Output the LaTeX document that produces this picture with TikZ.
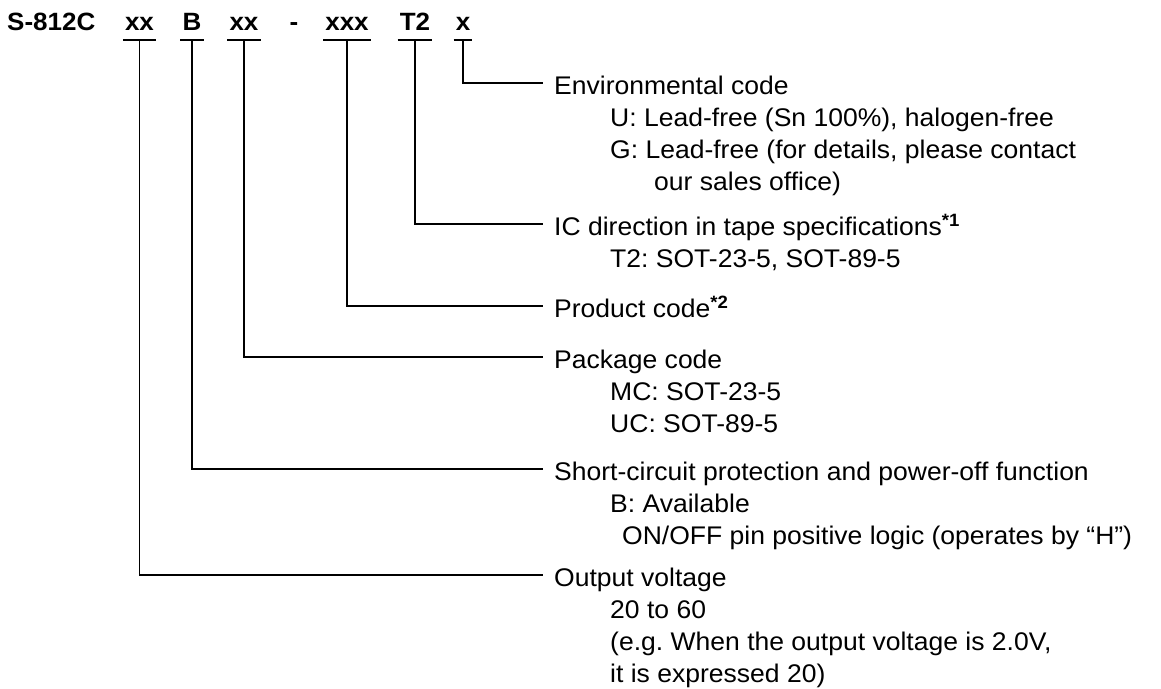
\documentclass[tikz,border=0pt]{standalone}
\usepackage{fontspec}
\setmainfont{Liberation Sans}[FakeStretch=1.04]
\frenchspacing
\newcommand{\firstln}{\rule{0pt}{24pt}}
\begin{document}
\begin{tikzpicture}[x=1pt,y=-1pt,
    code/.style={font=\fontsize{25}{30}\selectfont\bfseries, anchor=base,
        inner xsep=2pt, inner ysep=10pt, text depth=0pt},
    desc/.style={font=\fontsize{25.5}{32}\selectfont, anchor=north west,
        align=left, inner sep=0pt},
    lead/.style={line width=1.6pt}]
    \useasboundingbox (0,0) rectangle (1161,688);

    % part number
    \node [code, anchor=base west, inner xsep=0pt] (part) at (7,30) {S-812C};
    \node [code] (vout) at (139.5,30) {xx};
    \node [code] (func) at (192,30) {B};
    \node [code] (pkg) at (244,30) {xx};
    \node [code, inner ysep=0pt] (sep) at (294,30) {-};
    \node [code] (prod) at (347,30) {xxx};
    \node [code] (tape) at (415,30) {T2};
    \node [code] (env) at (463,30) {x};

    \draw[lead] (vout.south west) -- (vout.south east);
    \draw[lead] (func.south west) -- (func.south east);
    \draw[lead] (pkg.south west) -- (pkg.south east);
    \draw[lead] (prod.south west) -- (prod.south east);
    \draw[lead] (tape.south west) -- (tape.south east);
    \draw[lead] (env.south west) -- (env.south east);

    % explanations (first baseline 24pt below north)
    \node [desc] (envtxt) at (554,70) {\firstln Environmental code\\
        \hspace*{56pt}U: Lead-free (Sn 100\%), halogen-free\\
        \hspace*{56pt}G: Lead-free (for details, please contact\\
        \hspace*{100pt}our sales office)};
    \node [desc] (tapetxt) at (554,211) {\firstln IC direction in tape specifications\textsuperscript{\textbf{*1}}\\
        \hspace*{56pt}T2: SOT-23-5, SOT-89-5};
    \node [desc] (prodtxt) at (554,293) {\firstln Product code\textsuperscript{\textbf{*2}}};
    \node [desc] (pkgtxt) at (554,344) {\firstln Package code\\
        \hspace*{56pt}MC: SOT-23-5\\
        \hspace*{56pt}UC: SOT-89-5};
    \node [desc] (functxt) at (554,456) {\firstln Short-circuit protection and power-off function\\
        \hspace*{56pt}B: Available\\
        \hspace*{68pt}ON/OFF pin positive logic (operates by “H”)};
    \node [desc] (vouttxt) at (554,562) {\firstln Output voltage\\
        \hspace*{56pt}20 to 60\\
        \hspace*{56pt}(e.g. When the output voltage is 2.0V,\\
        \hspace*{56pt}it is expressed 20)};

    \draw[lead] (env.south) |- ([xshift=-11pt,yshift=-13pt]envtxt.north west);
    \draw[lead] (tape.south) |- ([xshift=-11pt,yshift=-13pt]tapetxt.north west);
    \draw[lead] (prod.south) |- ([xshift=-11pt,yshift=-13pt]prodtxt.north west);
    \draw[lead] (pkg.south) |- ([xshift=-11pt,yshift=-13pt]pkgtxt.north west);
    \draw[lead] (func.south) |- ([xshift=-11pt,yshift=-13pt]functxt.north west);
    \draw[lead] (vout.south) |- ([xshift=-11pt,yshift=-13pt]vouttxt.north west);
\end{tikzpicture}
\end{document}
